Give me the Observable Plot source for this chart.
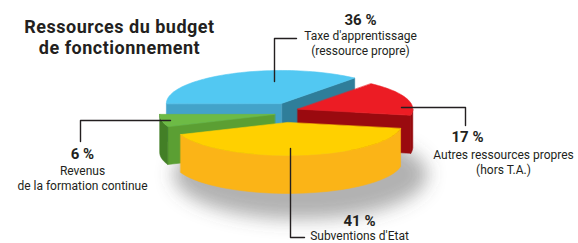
<!DOCTYPE html>
<html><head><meta charset="utf-8">
<script src="https://cdn.jsdelivr.net/npm/d3@7"></script>
<script src="https://cdn.jsdelivr.net/npm/@observablehq/plot@0.6"></script>
<style>body{margin:0;background:#fff} svg{display:block}</style>
</head><body><div id="chart"></div>
<script>
// ---- data ----
const categories = ["Taxe d'apprentissage", "Autres ressources propres", "Subventions d'Etat", "Revenus de la formation continue"];
const labelText = ["Taxe d'apprentissage\n(ressource propre)", "Autres ressources propres\n(hors T.A.)", "Subventions d'Etat", "Revenus\nde la formation continue"];
const values = [36, 17, 41, 6];
const titleLines = ["Ressources du budget", "de fonctionnement"];

// ---- styles ----
const palette = {
  top:    ["#52c8f2", "#ec1c24", "#ffd000", "#6dbb45"],
  radial1:["#2f7e9a", "#9a0a0f", "#f9b417", "#4e8f2c"],
  radial2:["#43a3c9", "#9a0a0f", "#f9b417", "#5b9f33"],
  wall:   ["#3d9cc2", "#960a0e", "#fbb417", "#437f26"]
};
const ink = "#231f20";
const W = 578, H = 243;
const geom = {cx: 286, cy: 112, rx: 115, ry: 33, h: 38, explode: 12, ek: 0.83};

// ---- annotation layout (pixel positions) ----
const layout = [
  {px: 360, py: 20, tx: 360, ty: 29, anchor: "top", leader: [[274, 81], [274, 38], [296, 38]]},
  {px: 467, py: 137, tx: 503, ty: 148, anchor: "top", leader: [[401, 107], [465, 107], [465, 125]]},
  {px: 359, py: 221, tx: 359, ty: 236, anchor: "middle", leader: [[290, 148], [290, 237], [304, 237]]},
  {px: 82, py: 154, tx: 82, ty: 164, anchor: "top", leader: [[170, 120], [80, 120], [80, 141]]}
];
const titlePos = [{x: 119, y: 26.5}, {x: 119, y: 48}];

// ---- geometry ----
const rad = d => d * Math.PI / 180;
let acc = 180;
const slices = values.map((v, i) => { const t2 = acc, t1 = acc - v * 3.6; acc = t1; return {i, t1, t2, mid: (t1 + t2) / 2}; });
function center(s) { const m = rad(s.mid); return [geom.cx + geom.explode * Math.cos(m), geom.cy - geom.explode * Math.sin(m) * geom.ek]; }
function rim(s, th, z) { const [x0, y0] = center(s); return [x0 + geom.rx * Math.cos(rad(th)), y0 - geom.ry * Math.sin(rad(th)) + z]; }
const polys = [];
function addPoly(id, fill, pts) { pts.forEach(([x, y]) => polys.push({id, fill, x, y})); }
const drawOrder = [0, 1, 3, 2];
for (const i of drawOrder) {
  const s = slices[i]; const [x0, y0] = center(s); const h = geom.h;
  if (Math.cos(rad(s.t1)) > 0) addPoly(`r1-${i}`, palette.radial1[i], [[x0, y0], rim(s, s.t1, 0), rim(s, s.t1, h), [x0, y0 + h]]);
  if (Math.cos(rad(s.t2)) < 0) addPoly(`r2-${i}`, palette.radial2[i], [[x0, y0], rim(s, s.t2, 0), rim(s, s.t2, h), [x0, y0 + h]]);
  const lo = Math.max(s.t1, -180), hi = Math.min(s.t2, 0);
  if (hi > lo) {
    const top = [], bot = [];
    for (let k = 0; k <= 40; k++) { const th = lo + (hi - lo) * k / 40; top.push(rim(s, th, 0)); bot.push(rim(s, th, h)); }
    addPoly(`w-${i}`, palette.wall[i], [...top, ...bot.reverse()]);
  }
  const tp = [[x0, y0]];
  for (let k = 0; k <= 60; k++) { const th = s.t1 + (s.t2 - s.t1) * k / 60; tp.push(rim(s, th, 0)); }
  addPoly(`t-${i}`, palette.top[i], tp);
}
// shadow ellipse
const shadow = d3.range(0, 73).map(k => {
  const th = rad(k * 5);
  return {x: geom.cx + 14 + (geom.rx + 12) * Math.cos(th), y: geom.cy + geom.h + 24 - (geom.ry + 12) * Math.sin(th)};
});
const leaders = layout.flatMap((l, i) => l.leader.map(([x, y]) => ({i, x, y})));
const pctText = values.map((v, i) => ({x: layout[i].px, y: layout[i].py, t: v + "\u00a0%"}));
const catTop = labelText.map((t, i) => ({x: layout[i].tx, y: layout[i].ty, t, a: layout[i].anchor})).filter(d => d.a === "top");
const catMid = labelText.map((t, i) => ({x: layout[i].tx, y: layout[i].ty, t, a: layout[i].anchor})).filter(d => d.a === "middle");
const titleText = titleLines.map((t, i) => ({...titlePos[i], t}));

const chart = Plot.plot({
  width: W, height: H, margin: 0,
  x: {type: "linear", domain: [0, W], range: [0, W], axis: null},
  y: {type: "linear", domain: [0, H], range: [0, H], axis: null},
  color: {type: "identity"},
  style: {fontFamily: "Roboto, sans-serif", background: "#fff", color: ink},
  marks: [
    Plot.line(shadow, {x: "x", y: "y", fill: "#555", fillOpacity: 0.45, stroke: "none", curve: "linear-closed"}),
    Plot.line(polys, {x: "x", y: "y", z: "id", fill: "fill", stroke: "fill", strokeWidth: 0.6, curve: "linear-closed"}),
    Plot.line(leaders, {x: "x", y: "y", z: "i", stroke: ink, strokeWidth: 1.4}),
    Plot.text(pctText, {x: "x", y: "y", text: "t", fontSize: 15, fontWeight: "bold", fill: ink}),
    Plot.text(catTop, {x: "x", y: "y", text: "t", fontSize: 12, lineAnchor: "top", lineHeight: 1.22, fill: ink}),
    Plot.text(catMid, {x: "x", y: "y", text: "t", fontSize: 12, lineAnchor: "middle", fill: ink}),
    Plot.text(titleText, {x: "x", y: "y", text: "t", fontSize: 18, fontWeight: "bold", fill: ink})
  ]
});
const svg = d3.select(chart);
// soft blur for the shadow
svg.insert("defs", ":first-child").append("filter").attr("id", "soft").attr("x", "-50%").attr("y", "-50%").attr("width", "200%").attr("height", "200%")
  .append("feGaussianBlur").attr("stdDeviation", 9);
svg.select("g[aria-label='line']").attr("filter", "url(#soft)");
// slightly wider tracking for the title
const textGroups = svg.selectAll("g[aria-label='text']").nodes();
d3.select(textGroups[textGroups.length - 1]).attr("letter-spacing", "0.5px");
document.getElementById("chart").appendChild(chart);
</script></body></html>
